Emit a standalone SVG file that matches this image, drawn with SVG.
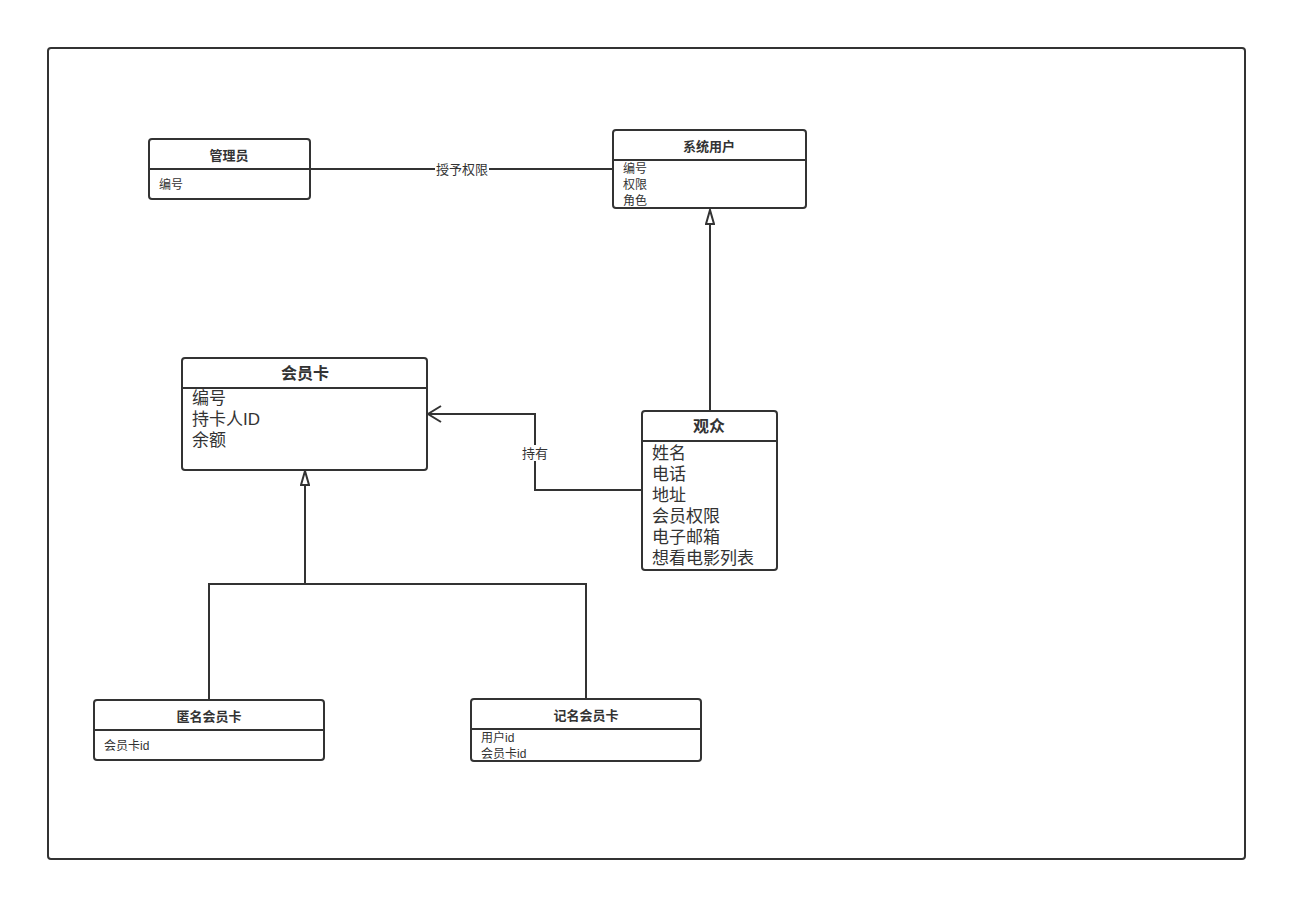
<svg xmlns="http://www.w3.org/2000/svg" width="1307" height="922" viewBox="0 0 1307 922">
<style>
.box{fill:#fff;stroke:#333;stroke-width:2}
.div{stroke:#333;stroke-width:2}
.edge{fill:none;stroke:#333;stroke-width:2}
text{font-family:"Liberation Sans","Noto Sans CJK SC",sans-serif;fill:#333}
.t13{font-size:13px;font-weight:bold;text-anchor:middle;dominant-baseline:central}
.t16{font-size:16px;font-weight:bold;text-anchor:middle;dominant-baseline:central}
.a12{font-size:12px;dominant-baseline:central}
.a17{font-size:17px;dominant-baseline:central}
.lbl{font-size:13px;text-anchor:middle;dominant-baseline:central}
</style>
<defs>
<marker id="tri" markerWidth="16" markerHeight="10" refX="15" refY="5" orient="auto" markerUnits="userSpaceOnUse" viewBox="0 0 16 10">
<path d="M1,1 L15,5 L1,9 Z" fill="#fff" stroke="#333" stroke-width="2"/>
</marker>
<marker id="open" markerWidth="16" markerHeight="20" refX="14" refY="10" orient="auto" markerUnits="userSpaceOnUse" viewBox="0 0 16 20">
<path d="M1,2 L14,10 L1,18" fill="none" stroke="#333" stroke-width="2"/>
</marker>
</defs>
<rect x="0" y="0" width="1307" height="922" fill="#fff"/>
<rect x="48" y="48" width="1197" height="811" rx="3" fill="#fff" stroke="#333" stroke-width="2"/>
<g id="connectors">
<path class="edge" d="M310,169 L613,169"/>
<rect x="435" y="161" width="54" height="16" fill="#fff"/>
<text class="lbl" x="462" y="169">授予权限</text>
<path class="edge" d="M710,411 L710,210" marker-end="url(#tri)"/>
<path class="edge" d="M642,490 L535,490 L535,414 L428,414" marker-end="url(#open)"/>
<rect x="520" y="445" width="30" height="16" fill="#fff"/>
<text class="lbl" x="535" y="453">持有</text>
<path class="edge" d="M209,700 L209,584 L305,584 L305,471" marker-end="url(#tri)"/>
<path class="edge" d="M586,699 L586,584 L305,584"/>
</g>
<g id="admin">
<rect class="box" x="149" y="139" width="161" height="60" rx="3"/>
<line class="div" x1="149" y1="169" x2="310" y2="169"/>
<text class="t13" x="229" y="155">管理员</text>
<text class="a12" x="159" y="185">编号</text>
</g>
<g id="sysuser">
<rect class="box" x="613" y="130" width="193" height="78" rx="3"/>
<line class="div" x1="613" y1="160" x2="806" y2="160"/>
<text class="t13" x="709" y="146">系统用户</text>
<text class="a12" x="623" y="169">编号</text>
<text class="a12" x="623" y="185">权限</text>
<text class="a12" x="623" y="201">角色</text>
</g>
<g id="card">
<rect class="box" x="182" y="358" width="245" height="112" rx="3"/>
<line class="div" x1="182" y1="388" x2="427" y2="388"/>
<text class="t16" x="305" y="373">会员卡</text>
<text class="a17" x="192" y="398">编号</text>
<text class="a17" x="192" y="419">持卡人ID</text>
<text class="a17" x="192" y="440">余额</text>
</g>
<g id="audience">
<rect class="box" x="642" y="411" width="135" height="159" rx="3"/>
<line class="div" x1="642" y1="441" x2="777" y2="441"/>
<text class="t16" x="709" y="426">观众</text>
<text class="a17" x="652" y="453">姓名</text>
<text class="a17" x="652" y="474">电话</text>
<text class="a17" x="652" y="495">地址</text>
<text class="a17" x="652" y="516">会员权限</text>
<text class="a17" x="652" y="537">电子邮箱</text>
<text class="a17" x="652" y="558">想看电影列表</text>
</g>
<g id="anoncard">
<rect class="box" x="94" y="700" width="230" height="60" rx="3"/>
<line class="div" x1="94" y1="730" x2="324" y2="730"/>
<text class="t13" x="209" y="716">匿名会员卡</text>
<text class="a12" x="104" y="746">会员卡id</text>
</g>
<g id="namedcard">
<rect class="box" x="471" y="699" width="230" height="62" rx="3"/>
<line class="div" x1="471" y1="729" x2="701" y2="729"/>
<text class="t13" x="586" y="715">记名会员卡</text>
<text class="a12" x="481" y="738">用户id</text>
<text class="a12" x="481" y="754">会员卡id</text>
</g>
</svg>
